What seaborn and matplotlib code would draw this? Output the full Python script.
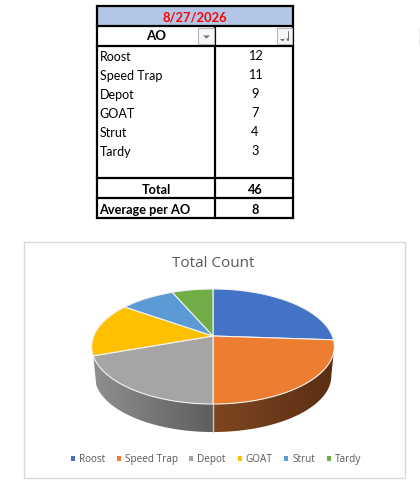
import numpy as np
import matplotlib
matplotlib.use("Agg")
import matplotlib.pyplot as plt
from matplotlib.patches import Patch, Polygon, Rectangle
import seaborn as sns

# table and pie data
date_label = "8/27/2026"
ao_names = ["Roost", "Speed Trap", "Depot", "GOAT", "Strut", "Tardy"]
ao_counts = [12, 11, 9, 7, 4, 3]
total_count = 46
average_count = 8
pie_colors = ["#4472C4", "#ED7D31", "#A5A5A5", "#FFC000", "#5B9BD5", "#70AD47"]
# wall shading per slice: colour at the left end, colour at the right end
wall_colors = {1: ("#7E4621", "#5A2E12"), 2: ("#8F8F8F", "#5E5E5E")}

sns.set_theme(style="white")
plt.rcParams["font.family"] = ["Lato", "DejaVu Sans"]

fig = plt.figure(figsize=(4.2, 4.96), dpi=100)
ax = fig.add_axes([0, 0, 1, 1])
ax.set_xlim(0, 420)
ax.set_ylim(496, 0)
ax.axis("off")

# --- table ---
T_L, T_M, T_R = 96.5, 215, 293
header_top, header_bot, body_top, body_bot, total_bot, table_bot = 6, 26, 46, 178, 198, 218

ax.add_patch(Rectangle((T_L, header_top), T_R - T_L, header_bot - header_top, fc="#B4C6E7", ec="none"))
for y in [header_top, header_bot, body_top, body_bot, total_bot, table_bot]:
    ax.plot([T_L, T_R], [y, y], color="black", lw=1.6, solid_capstyle="projecting")
ax.plot([T_L, T_L], [header_top, table_bot], color="black", lw=1.6)
ax.plot([T_R, T_R], [header_top, table_bot], color="black", lw=1.6)
ax.plot([T_M, T_M], [header_bot, table_bot], color="black", lw=1.6)

ax.text((T_L + T_R) / 2, 21, date_label, color="#FF0000", fontsize=9.3, ha="center", va="baseline", weight="bold")
ax.text(156, 40.5, "AO", color="black", fontsize=9.5, ha="center", va="baseline", weight="bold")

# filter buttons
ax.add_patch(Rectangle((198, 28), 16, 16, fc="#F6F7F9", ec="#B4B8BE", lw=0.8, zorder=3))
ax.add_patch(Rectangle((276.5, 28), 15.5, 16, fc="#F6F7F9", ec="#B4B8BE", lw=0.8, zorder=3))
ax.fill([203, 210, 206.5], [35.5, 35.5, 38.5], color="#6D6F73", lw=0, zorder=4)
ax.fill([280, 285, 282.5], [39, 39, 41.5], color="#6D6F73", lw=0, zorder=4)
ax.plot([287.8, 287.8], [30.5, 40], color="#6D6F73", lw=0.7, zorder=4)
ax.fill([286, 289.6, 287.8], [38.5, 38.5, 41.2], color="#6D6F73", lw=0, zorder=4)

for i, (name, count) in enumerate(zip(ao_names, ao_counts)):
    ax.text(99.5, 61 + i * 19, name, color="black", fontsize=9, ha="left", va="baseline")
    ax.text(255, 60 + i * 19, str(count), color="black", fontsize=9.2, ha="center", va="baseline")

ax.text(156, 193.7, "Total", color="black", fontsize=9.2, ha="center", va="baseline", weight="bold")
ax.text(255, 193.7, str(total_count), color="black", fontsize=9.2, ha="center", va="baseline", weight="bold")
ax.text(99.5, 213.7, "Average per AO", color="black", fontsize=9.2, ha="left", va="baseline", weight="bold")
ax.text(255, 213.7, str(average_count), color="black", fontsize=9.2, ha="center", va="baseline", weight="bold")

# stray cell border at the right edge
ax.plot([419.5, 419.5], [28, 45], color="#A0A0A0", lw=1)

# --- chart frame ---
ax.add_patch(Rectangle((23.5, 241.5), 381, 236.5, fc="white", ec="#D9D9D9", lw=1))
ax.text(213, 267, "Total Count", color="#595959", fontsize=11, ha="center", va="baseline", family=["Open Sans", "DejaVu Sans"])

# --- tilted pie ---
CX, CY = 213, 336
A, B, K = 119.3, 55.6, 0.1826
BASE_SCALE, BASE_DROP = 0.975, 29.7


def project(theta):
    # theta runs clockwise from the top of the pie, in degrees
    u = np.sin(np.radians(theta))
    v = np.cos(np.radians(theta))
    w = 1 + K * v
    return CX + A * u / w, CY - B * v / w


def project_base(theta):
    x, y = project(theta)
    return CX + (x - CX) * BASE_SCALE, CY + (y - CY) * BASE_SCALE + BASE_DROP


edges = np.concatenate([[0], np.cumsum(ao_counts)]) / sum(ao_counts) * 360

# side wall, only the part that faces the viewer
for idx, (left_c, right_c) in wall_colors.items():
    start, end = max(edges[idx], 100.5), edges[idx + 1]
    thetas = np.linspace(start, end, 120)
    xs, ys = project(thetas)
    bx, by = project_base(thetas)
    outline = np.column_stack([np.r_[xs, bx[::-1]], np.r_[ys, by[::-1]]])
    clip = Polygon(outline, closed=True, transform=ax.transData, fc="none", ec="none")
    ax.add_patch(clip)
    ramp = np.linspace(matplotlib.colors.to_rgb(left_c), matplotlib.colors.to_rgb(right_c), 64)[None, :, :]
    im = ax.imshow(ramp, extent=(outline[:, 0].min(), outline[:, 0].max(), outline[:, 1].max(), outline[:, 1].min()),
                   aspect="auto", interpolation="bilinear", zorder=5)
    im.set_clip_path(clip)

ax.set_xlim(0, 420)
ax.set_ylim(496, 0)

x0, y0 = project(180.0)
x1, y1 = project_base(180.0)
ax.plot([x0, x1], [y0, y1], color="#C8C8C8", lw=1.0, zorder=6)

# top face
for i in range(len(ao_counts)):
    thetas = np.linspace(edges[i], edges[i + 1], 120)
    xs, ys = project(thetas)
    ax.fill(np.r_[CX, xs], np.r_[CY, ys], facecolor=pie_colors[i], edgecolor="#F2F2F2", lw=0.8, zorder=7)

# legend
handles = [Patch(facecolor=c, edgecolor="none", label=n) for n, c in zip(ao_names, pie_colors)]
leg = ax.legend(handles=handles, ncol=6, loc="center", bbox_to_anchor=(216 / 420, 1 - 459.5 / 496),
                frameon=False, handlelength=0.4, handleheight=0.4, handletextpad=0.4, borderpad=0,
                columnspacing=1.18, prop={"family": ["Open Sans", "DejaVu Sans"], "size": 7.2})
for txt in leg.get_texts():
    txt.set_color("#595959")

fig.savefig("out.png", dpi=100)
